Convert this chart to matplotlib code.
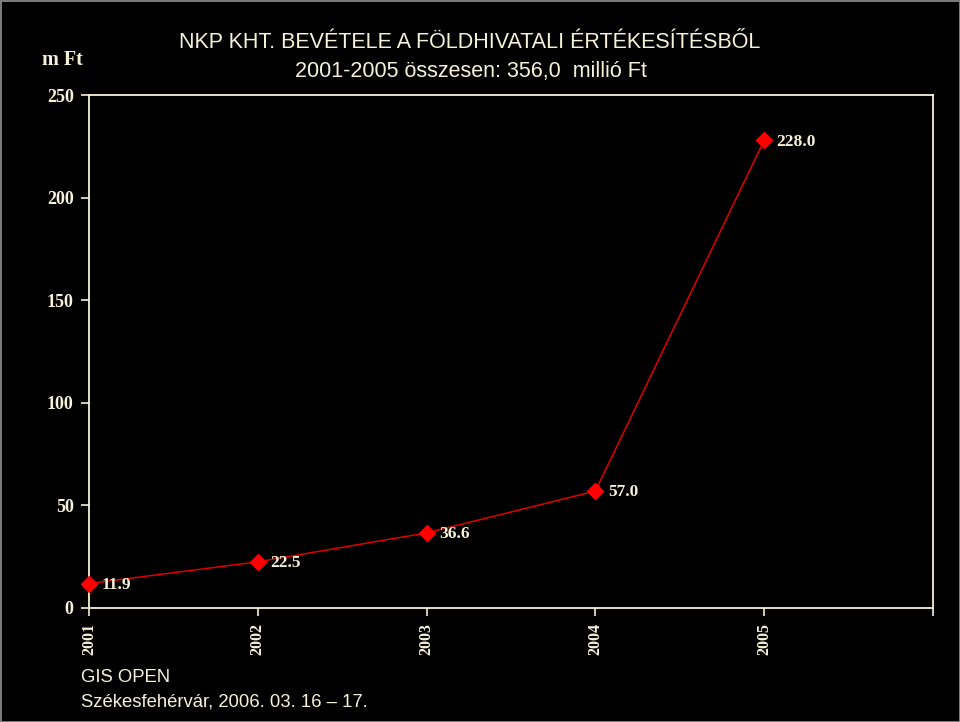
import numpy as np
import matplotlib
matplotlib.use('Agg')
import matplotlib.pyplot as plt

years = ['2001', '2002', '2003', '2004', '2005']
revenue = [11.9, 22.5, 36.6, 57.0, 228.0]
y_ticks = [0, 50, 100, 150, 200, 250]

cream = '#F6F2D8'
serif = ['Liberation Serif', 'DejaVu Serif']
sans = ['Liberation Sans', 'DejaVu Sans']

fig = plt.figure(figsize=(9.6, 7.22), dpi=100, facecolor='black',
                 edgecolor='#7a7a7a', linewidth=2)
ax = fig.add_axes([89 / 960, 114 / 722, 844 / 960, 513 / 722])
ax.set_facecolor('black')

x = np.arange(len(years))
ax.plot(x, revenue, color='#e00000', lw=1.1, marker='D', markersize=8,
        markerfacecolor='#ff0000', markeredgecolor='#ff0000', clip_on=False, zorder=3)
for xi, v in zip(x, revenue):
    ax.annotate(f'{v:.1f}', (xi, v), xytext=(9, -1), textcoords='offset points',
                ha='left', va='center', color=cream, fontsize=12.5,
                fontweight='bold', family=serif)

ax.set_xlim(0, len(years))
ax.set_ylim(0, 250)
ax.set_xticks(list(x) + [len(years)])
ax.set_xticklabels(years + [''], rotation=90, fontsize=11.5, fontweight='bold',
                   family=serif, color=cream)
ax.set_yticks(y_ticks)
ax.set_yticklabels([str(t) for t in y_ticks], fontsize=13, fontweight='bold',
                   family=serif, color=cream)
ax.tick_params(axis='both', direction='out', color=cream, length=6, width=1.2)
ax.tick_params(axis='x', pad=5)
ax.tick_params(axis='y', pad=5)
for s in ax.spines.values():
    s.set_color(cream)
    s.set_linewidth(1.3)

fig.text(470 / 960, 1 - 43 / 722, 'NKP KHT. BEVÉTELE A FÖLDHIVATALI ÉRTÉKESÍTÉSBŐL',
         ha='center', va='center', fontsize=15.5, color=cream, family=sans)
fig.text(471 / 960, 1 - 71 / 722, '2001-2005 összesen: 356,0  millió Ft',
         ha='center', va='center', fontsize=15.5, color=cream, family=sans)
fig.text(62 / 960, 1 - 60 / 722, 'm Ft', ha='center', va='center', fontsize=14.5,
         fontweight='bold', color=cream, family=serif)
fig.text(81 / 960, 1 - 677 / 722, 'GIS OPEN', ha='left', va='center',
         fontsize=13.3, color=cream, family=sans)
fig.text(81 / 960, 1 - 702 / 722, 'Székesfehérvár, 2006. 03. 16 – 17.', ha='left',
         va='center', fontsize=13.3, color=cream, family=sans)

fig.savefig('out.png', dpi=100, facecolor='black')
